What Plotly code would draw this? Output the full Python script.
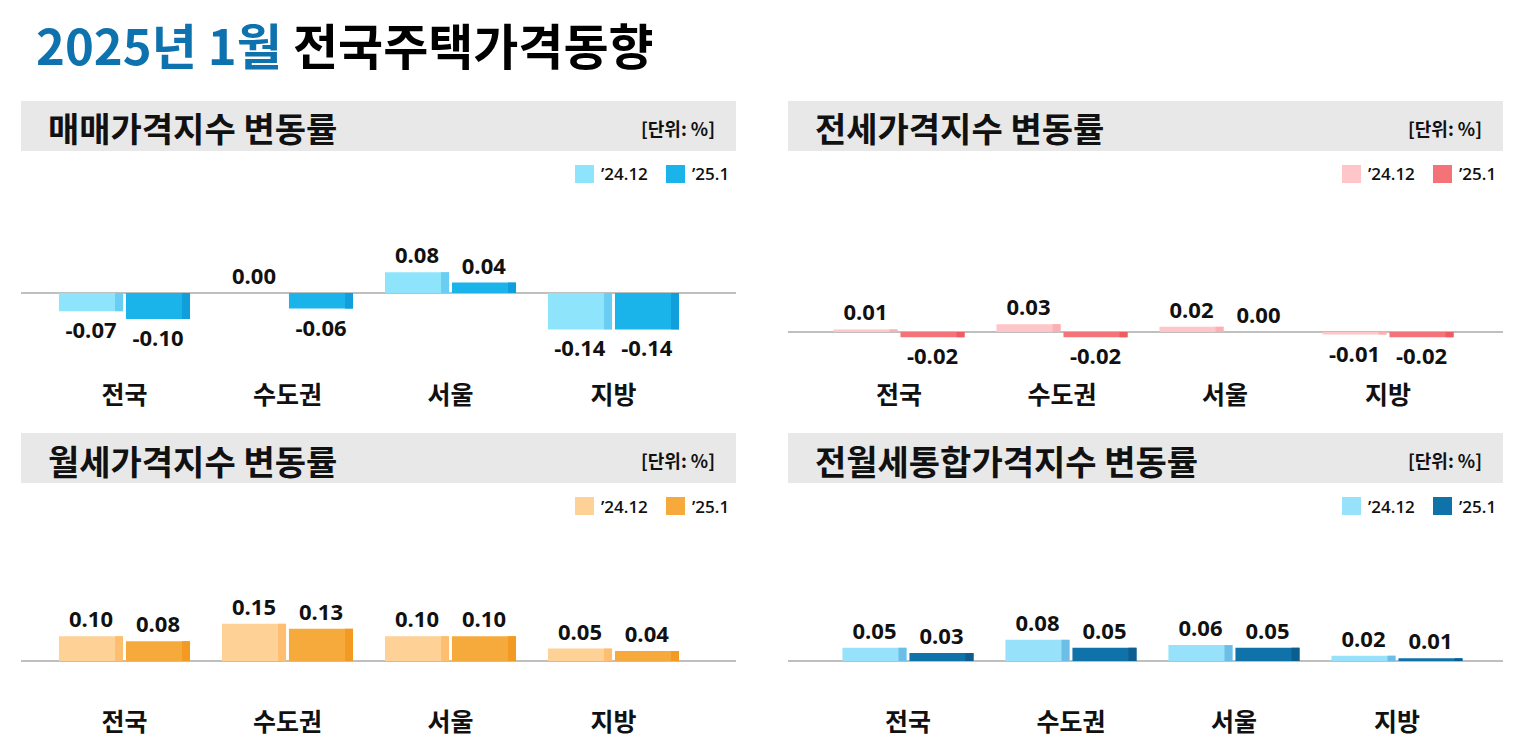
import plotly.graph_objects as go

W, H = 1529, 741
OFF = 8  # page body margin
FW, FH = W - OFF, H - OFF

regions = ["전국", "수도권", "서울", "지방"]
series_names = ["’24.12", "’25.1"]

sale_2412 = [-0.07, 0.00, 0.08, -0.14]
sale_2501 = [-0.10, -0.06, 0.04, -0.14]
jeonse_2412 = [0.01, 0.03, 0.02, -0.01]
jeonse_2501 = [-0.02, -0.02, 0.00, -0.02]
wolse_2412 = [0.10, 0.15, 0.10, 0.05]
wolse_2501 = [0.08, 0.13, 0.10, 0.04]
total_2412 = [0.05, 0.08, 0.06, 0.02]
total_2501 = [0.03, 0.05, 0.05, 0.01]

panel_titles = ["매매가격지수 변동률", "전세가격지수 변동률", "월세가격지수 변동률", "전월세통합가격지수 변동률"]
unit_label = "[단위: %]"
main_title_blue = "2025년 1월"
main_title_black = "전국주택가격동향"


def py(p):
    return 1 - (p - OFF) / FH


def px(p):
    return (p - OFF) / FW


KR = "Noto Sans CJK KR"
NUM = "Open Sans"

panels = [
    dict(a=sale_2412, b=sale_2501, ca="#8EE4FB", cb="#1AB4EB", sa="#6ACDF2", sb="#109FDB",
         x0=21, x1=736, top=190, bot=378, xr=[-0.635, 3.7515], yr=[-85 / 260, 103 / 260], hy=101),
    dict(a=jeonse_2412, b=jeonse_2501, ca="#FFC6C9", cb="#F37378", sa="#FDB0B4", sb="#EE5C62",
         x0=788, x1=1503, top=190, bot=378, xr=[-0.681, 3.7055], yr=[-46 / 262, 142 / 262], hy=101),
    dict(a=wolse_2412, b=wolse_2501, ca="#FED196", cb="#F6AA3C", sa="#FDBE70", sb="#F39A22",
         x0=21, x1=736, top=520, bot=705, xr=[-0.635, 3.7515], yr=[-44 / 248, 141 / 248], hy=433),
    dict(a=total_2412, b=total_2501, ca="#98E1FA", cb="#0F72A8", sa="#6CBEE6", sb="#0B5E8E",
         x0=788, x1=1503, top=520, bot=705, xr=[-0.736, 3.6505], yr=[-44 / 265, 141 / 265], hy=433),
]

fig = go.Figure()
shapes = []
annotations = []
layout_axes = {}

for i, p in enumerate(panels):
    sfx = "" if i == 0 else str(i + 1)
    xa, ya = "x" + sfx, "y" + sfx
    for vals, col, off, name in [(p["a"], p["ca"], -0.402, series_names[0]),
                                 (p["b"], p["cb"], 0.009, series_names[1])]:
        fig.add_trace(go.Bar(
            x=regions, y=vals, xaxis=xa, yaxis=ya, name=name,
            offset=off, width=0.393, marker=dict(color=col, line=dict(width=0)),
            texttemplate="%{y:.2f}", textposition="outside", constraintext="none",
            textfont=dict(family=NUM, size=22, color="#111111", weight="bold"),
            cliponaxis=False, showlegend=False, hoverinfo="skip"))
    for vals, col, off in [(p["a"], p["sa"], -0.058), (p["b"], p["sb"], 0.353)]:
        fig.add_trace(go.Bar(
            x=regions, y=vals, xaxis=xa, yaxis=ya, offset=off, width=0.049,
            marker=dict(color=col, line=dict(width=0)), showlegend=False, hoverinfo="skip"))

    layout_axes["xaxis" + sfx] = dict(
        domain=[px(p["x0"]), px(p["x1"])], anchor=ya, range=p["xr"], showgrid=False,
        showline=False, zeroline=False, ticks="", fixedrange=True,
        tickfont=dict(family=KR, size=25, color="#111111", weight="bold"))
    layout_axes["yaxis" + sfx] = dict(
        domain=[py(p["bot"]), py(p["top"])], anchor=xa, range=p["yr"], showgrid=False,
        showticklabels=False, zeroline=True, zerolinecolor="#BFBFBF", zerolinewidth=1.5,
        fixedrange=True)

    # header band
    hy = p["hy"]
    shapes.append(dict(type="rect", xref="paper", yref="paper", x0=px(p["x0"]), x1=px(p["x1"]),
                       y0=py(hy + 50), y1=py(hy), fillcolor="#E8E8E8", line=dict(width=0), layer="below"))
    annotations.append(dict(xref="paper", yref="paper", x=px(p["x0"] + 25), y=py(hy + 27),
                            xanchor="left", yanchor="middle", showarrow=False,
                            text="<b>" + panel_titles[i] + "</b>",
                            font=dict(family=KR, size=34, color="#111111")))
    annotations.append(dict(xref="paper", yref="paper", x=px(p["x1"] - 19), y=py(hy + 27),
                            xanchor="right", yanchor="middle", showarrow=False,
                            text="<b>" + unit_label + "</b>",
                            font=dict(family=KR, size=18, color="#111111")))
    # legend
    ly = hy + 64
    for k, (lx, col) in enumerate([(p["x0"] + 554, p["ca"]), (p["x0"] + 645, p["cb"])]):
        shapes.append(dict(type="rect", xref="paper", yref="paper", x0=px(lx), x1=px(lx + 19),
                           y0=py(ly + 18), y1=py(ly), fillcolor=col, line=dict(width=0)))
        annotations.append(dict(xref="paper", yref="paper", x=px(lx + 24), y=py(ly + 9),
                                xanchor="left", yanchor="middle", showarrow=False,
                                text=series_names[k],
                                font=dict(family=NUM, size=17, color="#111111", weight=600)))

annotations.append(dict(xref="paper", yref="paper", x=px(34), y=py(44), xanchor="left",
                        yanchor="middle", showarrow=False,
                        text="<b><span style='color:#0E72AE'>" + main_title_blue + "</span> "
                             + main_title_black + "</b>",
                        font=dict(family=KR, size=49, color="#000000")))

fig.update_layout(
    width=FW, height=FH, margin=dict(l=0, r=0, t=0, b=0),
    paper_bgcolor="white", plot_bgcolor="rgba(0,0,0,0)",
    barmode="overlay", shapes=shapes, annotations=annotations, showlegend=False,
    **layout_axes)

fig.write_html("out.html", config={"displayModeBar": False})
